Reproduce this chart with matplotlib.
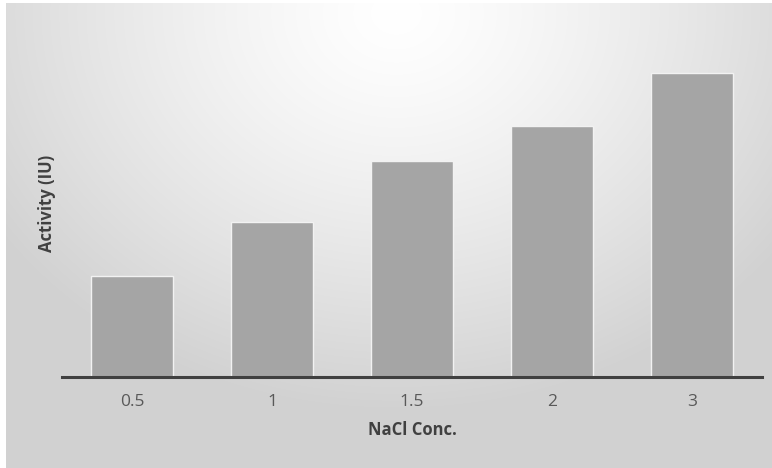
import numpy as np
import matplotlib.pyplot as plt

# NaCl concentration vs enzyme activity
categories = ['0.5', '1', '1.5', '2', '3']
activity = [10.1, 15.5, 21.6, 25.1, 30.4]

plt.rcParams['font.family'] = ['Open Sans', 'DejaVu Sans']

W, H = 772, 468
fig = plt.figure(figsize=(W / 100, H / 100), dpi=100, facecolor='white')

# soft radial shading behind the chart area
bg = fig.add_axes([6 / W, 0, 1 - 6 / W, 1 - 3 / H])
yy, xx = np.mgrid[0:H - 3, 0:W - 6]
dist = np.sqrt((xx - 390) ** 2 + ((yy - 10) * 1.2) ** 2)
shade = 1.0 - 0.18 * np.clip(dist / 480, 0, 1) ** 1.3
bg.imshow(np.dstack([shade] * 3), aspect='auto', interpolation='bilinear')
bg.set_axis_off()

ax = fig.add_axes([62 / W, (H - 377) / H, 700 / W, 347 / H])
ax.patch.set_alpha(0)
x = np.arange(len(categories))
ax.bar(x, activity, width=0.59, color='#a5a5a5', edgecolor='#f2f2f2', linewidth=1.0)
ax.set_xlim(-0.5, len(categories) - 0.5)
ax.set_ylim(0, 34.7)

for side in ['top', 'right', 'left']:
    ax.spines[side].set_visible(False)
ax.spines['bottom'].set_color('#404040')
ax.spines['bottom'].set_linewidth(2.2)

ax.set_yticks([])
ax.set_xticks(x)
ax.set_xticklabels(categories, fontsize=12.5, color='#595959')
ax.tick_params(axis='x', length=0, pad=12)

ax.set_xlabel('NaCl Conc.', fontsize=12, fontweight='bold', color='#404040')
ax.set_ylabel('Activity (IU)', fontsize=12, fontweight='bold', color='#404040')
ax.xaxis.set_label_coords(0.5, -0.153)
ax.yaxis.set_label_coords(-0.021, 0.5)
ax.yaxis.label.set_va('center')
ax.xaxis.label.set_va('center')

fig.savefig('out.png', dpi=100)
